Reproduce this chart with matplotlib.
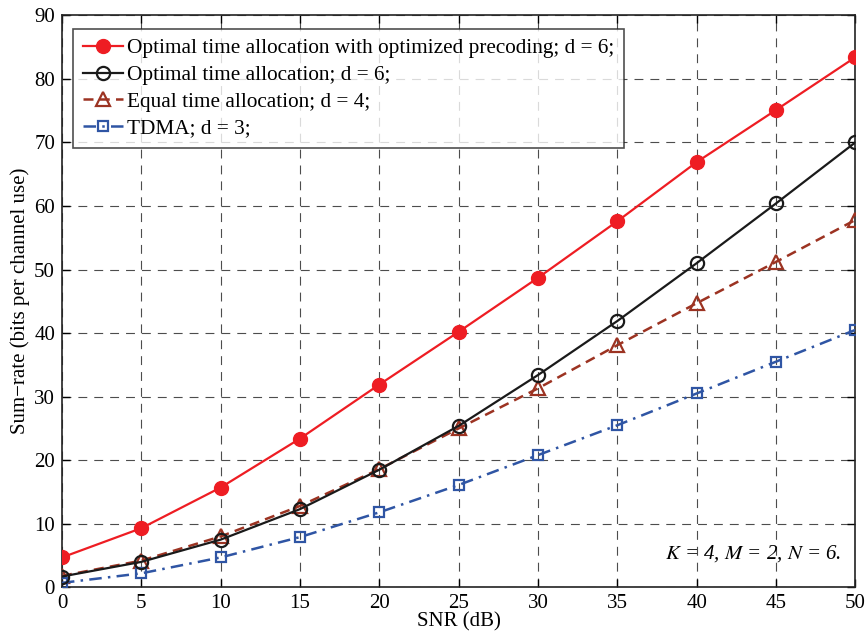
import matplotlib
matplotlib.use("Agg")
import matplotlib.pyplot as plt

plt.rcParams['font.family'] = ['Liberation Serif', 'DejaVu Serif']
plt.rcParams['mathtext.fontset'] = 'stix'

snr = [0, 5, 10, 15, 20, 25, 30, 35, 40, 45, 50]
opt_precoding = [4.7, 9.3, 15.7, 23.4, 31.9, 40.2, 48.7, 57.6, 66.9, 75.1, 83.4]
opt_time = [1.7, 4.0, 7.5, 12.3, 18.5, 25.4, 33.4, 41.9, 51.0, 60.4, 70.0]
equal_time = [1.8, 4.2, 8.0, 12.8, 18.6, 25.0, 31.3, 38.1, 44.7, 51.2, 57.8]
tdma = [0.7, 2.2, 4.7, 7.9, 11.8, 16.1, 20.8, 25.5, 30.5, 35.5, 40.5]

labels = [
    "Optimal time allocation with optimized precoding; d = 6;",
    "Optimal time allocation; d = 6;",
    "Equal time allocation; d = 4;",
    "TDMA; d = 3;",
]
xticks = [0, 5, 10, 15, 20, 25, 30, 35, 40, 45, 50]
yticks = [0, 10, 20, 30, 40, 50, 60, 70, 80, 90]

fig = plt.figure(figsize=(8.68, 6.35), dpi=100)
ax = fig.add_axes([0.0714, 0.0751, 0.914, 0.9008])

ax.plot(snr, opt_precoding, '-o', color='#ee1d23', lw=1.6, ms=10,
        mfc='#ee1d23', mec='#ee1d23', label=labels[0], zorder=5)
ax.plot(snr, opt_time, '-o', color='#1a1a1a', lw=1.6, ms=9.5,
        mfc='none', mec='#1a1a1a', mew=1.6, label=labels[1], zorder=4)
ax.plot(snr, equal_time, '--^', color='#9c3322', lw=1.8, ms=9.5,
        mfc='none', mec='#9c3322', mew=1.6, dashes=(4, 2.5),
        label=labels[2], zorder=3)
ax.plot(snr, tdma, '-.s', color='#2f55a4', lw=1.8, ms=7,
        mfc='none', mec='#2f55a4', mew=1.6, dashes=(5, 2.5, 1, 2.5),
        label=labels[3], zorder=3)

ax.set_xlim(0, 50)
ax.set_ylim(0, 90)
ax.set_xticks(xticks)
ax.set_yticks(yticks)
ax.tick_params(direction='in', top=True, right=True, labelsize=15,
               length=6, width=1, pad=5)
ax.grid(True, color='#3a3a3a', ls=(0, (8, 6.3)), lw=0.8, alpha=0.9)
for s in ax.spines.values():
    s.set_linewidth(1.2)
    s.set_color('#222222')

ax.set_xlabel("SNR (dB)", fontsize=15, labelpad=-1)
ax.set_ylabel("Sum\u2212rate (bits per channel use)", fontsize=15, labelpad=3)

leg = ax.legend(loc='upper left', bbox_to_anchor=(0.0139, 0.976), fontsize=15.3,
                frameon=True, fancybox=False, edgecolor='#222222',
                handlelength=1.9, handletextpad=0.2, labelspacing=0.32,
                borderpad=0.45, borderaxespad=0)
leg.get_frame().set_linewidth(1.2)

ax.text(0.982, 0.04, "$K$ = 4, $M$ = 2, $N$ = 6.", transform=ax.transAxes,
        ha='right', va='bottom', fontsize=15, style='italic')

fig.savefig("out.png", dpi=100)
